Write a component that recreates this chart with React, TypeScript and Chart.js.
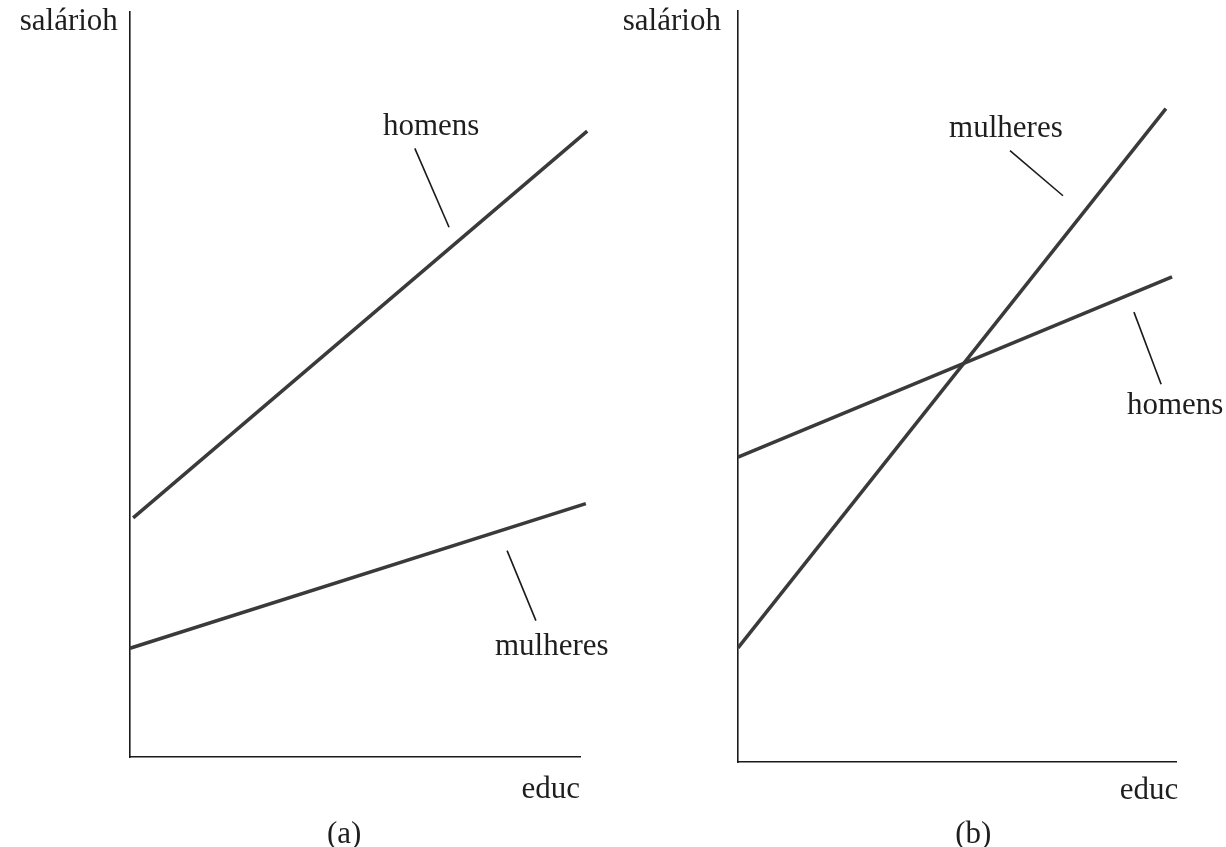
import React, { useEffect, useRef } from "react";
import { Chart, registerables } from "chart.js";

Chart.register(...registerables);

// ---- Data (arbitrary units: educ on x, salárioh on y) ----
const educRange = [0, 10];
const wageRange = [0, 10];

// Panel (a)
const aHomensX = [0.07, 10.16];
const aHomensY = [3.21, 8.4];
const aMulheresX = [0, 10.13];
const aMulheresY = [1.46, 3.4];

// Panel (b)
const bHomensX = [0, 9.91];
const bHomensY = [4.06, 6.46];
const bMulheresX = [0, 9.77];
const bMulheresY = [1.52, 8.7];

// Leader lines (data units)
const aHomensLeaderX = [6.33, 7.09];
const aHomensLeaderY = [8.17, 7.11];
const aMulheresLeaderX = [8.38, 9.02];
const aMulheresLeaderY = [2.77, 1.83];
const bMulheresLeaderX = [6.21, 7.42];
const bMulheresLeaderY = [8.14, 7.54];
const bHomensLeaderX = [9.04, 9.66];
const bHomensLeaderY = [5.99, 5.03];

// Text labels (data units)
const aTexts = [
  { text: "homens", x: 5.62, y: 8.35, align: "left" },
  { text: "mulheres", x: 8.11, y: 1.37, align: "left" },
  { text: "salárioh", x: -0.27, y: 9.76, align: "right" },
  { text: "educ", x: 10.0, y: -0.55, align: "right" },
  { text: "(a)", x: 4.76, y: -1.15, align: "center" },
];
const bTexts = [
  { text: "mulheres", x: 4.82, y: 8.32, align: "left" },
  { text: "homens", x: 8.88, y: 4.63, align: "left" },
  { text: "salárioh", x: -0.39, y: 9.75, align: "right" },
  { text: "educ", x: 10.05, y: -0.49, align: "right" },
  { text: "(b)", x: 5.37, y: -1.08, align: "center" },
];

const FONT = '"Liberation Serif", "Times New Roman", serif';

const pts = (xs: number[], ys: number[]) => xs.map((x, i) => ({ x, y: ys[i] }));

const textPlugin = {
  id: "panelTexts",
  afterDraw(chart: any) {
    const texts = chart.options.plugins.panelTexts?.items || [];
    const ctx = chart.ctx;
    const xs = chart.scales.x;
    const ys = chart.scales.y;
    ctx.save();
    ctx.fillStyle = "#1e1e1e";
    ctx.font = `31px ${FONT}`;
    ctx.textBaseline = "alphabetic";
    texts.forEach((t: any) => {
      ctx.textAlign = t.align;
      ctx.fillText(t.text, xs.getPixelForValue(t.x), ys.getPixelForValue(t.y));
    });
    ctx.restore();
  },
};

function makeConfig(
  lines: { x: number[]; y: number[] }[],
  leaders: { x: number[]; y: number[] }[],
  texts: any[],
  padding: any
) {
  const datasets: any[] = [];
  lines.forEach((l) =>
    datasets.push({
      data: pts(l.x, l.y),
      borderColor: "#3a3a3a",
      borderWidth: 3.5,
      pointRadius: 0,
      showLine: true,
      clip: false,
      borderCapStyle: "butt",
    })
  );
  leaders.forEach((l) =>
    datasets.push({
      data: pts(l.x, l.y),
      borderColor: "#1a1a1a",
      borderWidth: 1.6,
      pointRadius: 0,
      showLine: true,
      clip: false,
    })
  );
  const axis = (range: number[]) => ({
    type: "linear",
    min: range[0],
    max: range[1],
    grid: { display: false, drawTicks: false },
    ticks: { display: false },
    border: { display: true, color: "#1a1a1a", width: 1.6 },
  });
  return {
    type: "scatter",
    data: { datasets },
    options: {
      animation: false,
      responsive: false,
      maintainAspectRatio: false,
      layout: { padding },
      plugins: {
        legend: { display: false },
        tooltip: { enabled: false },
        panelTexts: { items: texts },
      },
      scales: { x: axis(educRange), y: axis(wageRange) },
    },
    plugins: [textPlugin],
  } as any;
}

function Panel({ config, left, width, height }: any) {
  const ref = useRef<HTMLCanvasElement>(null);
  useEffect(() => {
    const chart = new Chart(ref.current as HTMLCanvasElement, config);
    return () => chart.destroy();
  }, []);
  return (
    <canvas
      ref={ref}
      width={width}
      height={height}
      style={{ position: "absolute", left, top: 0, width, height }}
    />
  );
}

export default function App() {
  const cfgA = makeConfig(
    [
      { x: aHomensX, y: aHomensY },
      { x: aMulheresX, y: aMulheresY },
    ],
    [
      { x: aHomensLeaderX, y: aHomensLeaderY },
      { x: aMulheresLeaderX, y: aMulheresLeaderY },
    ],
    aTexts,
    { left: 130, top: 12, right: 33, bottom: 90 }
  );
  const cfgB = makeConfig(
    [
      { x: bHomensX, y: bHomensY },
      { x: bMulheresX, y: bMulheresY },
    ],
    [
      { x: bMulheresLeaderX, y: bMulheresLeaderY },
      { x: bHomensLeaderX, y: bHomensLeaderY },
    ],
    bTexts,
    { left: 125, top: 11, right: 50, bottom: 85 }
  );
  return (
    <div
      style={{
        position: "absolute",
        left: 0,
        top: 0,
        width: 1226,
        height: 847,
        background: "#ffffff",
      }}
    >
      <Panel config={cfgA} left={0} width={613} height={847} />
      <Panel config={cfgB} left={613} width={613} height={847} />
    </div>
  );
}
